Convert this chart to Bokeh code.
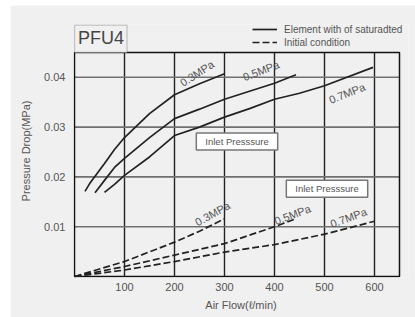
from bokeh.plotting import figure
from bokeh.models import (FixedTicker, NumeralTickFormatter, Label, Legend, LegendItem,
                          ColumnDataSource, BoxAnnotation)
from bokeh.core.properties import value
from bokeh.embed import file_html
from bokeh.resources import INLINE

# ---- data ----
flow_sat_03 = [21, 30, 40, 60, 80, 100, 150, 200, 250, 300]
dp_sat_03 = [0.0171, 0.0186, 0.0200, 0.0227, 0.0255, 0.0279, 0.0327, 0.0365, 0.0387, 0.0407]
flow_sat_05 = [41, 60, 80, 100, 150, 200, 250, 300, 350, 400, 443]
dp_sat_05 = [0.0168, 0.0193, 0.0219, 0.0237, 0.0279, 0.0317, 0.0336, 0.0356, 0.0372, 0.0388, 0.0405]
flow_sat_07 = [60, 80, 100, 150, 200, 250, 300, 350, 400, 450, 500, 597]
dp_sat_07 = [0.0169, 0.0185, 0.0203, 0.0240, 0.0283, 0.0300, 0.0320, 0.0337, 0.0356, 0.0368, 0.0383, 0.0420]

flow_ini_03 = [0, 100, 200, 250, 300]
dp_ini_03 = [0.0, 0.0030, 0.0069, 0.0091, 0.0116]
flow_ini_05 = [0, 100, 200, 300, 400, 443]
dp_ini_05 = [0.0, 0.0020, 0.0043, 0.0066, 0.0100, 0.0116]
flow_ini_07 = [0, 100, 200, 300, 400, 500, 600]
dp_ini_07 = [0.0, 0.0013, 0.0030, 0.0049, 0.0064, 0.0085, 0.0111]

x_ticks = [100, 200, 300, 400, 500, 600]
y_ticks = [0.01, 0.02, 0.03, 0.04]
x_max = 650
y_max = 0.045
pressure_labels = ["0.3MPa", "0.5MPa", "0.7MPa"]

FONT = "Liberation Sans"
TXT = "#555555"
INK = "#222222"
BG = "#f0f0f0"

p = figure(width=405, height=312, margin=(5, 0, 0, 10),
           x_range=(-2, 668), y_range=(-0.0002, 0.0506),
           output_backend="svg", toolbar_location=None,
           min_border_left=63, min_border_right=7, min_border_top=19, min_border_bottom=40)
p.background_fill_color = BG
p.border_fill_color = BG
p.outline_line_color = None
p.xgrid.visible = False
p.ygrid.visible = False

# grid + frame drawn inside the data area
p.segment(x0=x_ticks, y0=[0] * len(x_ticks), x1=x_ticks, y1=[y_max] * len(x_ticks),
          line_color="#222222", line_width=1.4)
p.segment(x0=[0] * len(y_ticks), y0=y_ticks, x1=[x_max] * len(y_ticks), y1=y_ticks,
          line_color="#707070", line_width=1.6)
p.quad(left=[0], right=[x_max], bottom=[0], top=[y_max], fill_alpha=0,
       line_color="#111111", line_width=1.5)

p.xaxis.ticker = FixedTicker(ticks=x_ticks)
p.yaxis.ticker = FixedTicker(ticks=y_ticks)
p.yaxis.formatter = NumeralTickFormatter(format="0.00")
for ax in (p.xaxis, p.yaxis):
    ax.axis_line_color = None
    ax.major_tick_line_color = None
    ax.minor_tick_line_color = None
    ax.major_tick_out = 0
    ax.major_tick_in = 0
    ax.minor_tick_out = 0
    ax.major_label_text_font = FONT
    ax.major_label_text_font_size = "11px"
    ax.major_label_text_color = TXT
    ax.axis_label_text_font = FONT
    ax.axis_label_text_font_size = "11px"
    ax.axis_label_text_color = TXT
    ax.axis_label_text_font_style = "normal"
p.xaxis.axis_label = "Air Flow(ℓ/min)"
p.yaxis.axis_label = "Pressure Drop(MPa)"
p.xaxis.major_label_standoff = 5
p.xaxis.axis_label_standoff = 5
p.yaxis.major_label_standoff = 8
p.yaxis.axis_label_standoff = 9

lw = 1.7
s1 = p.line(flow_sat_03, dp_sat_03, line_color=INK, line_width=lw)
p.line(flow_sat_05, dp_sat_05, line_color=INK, line_width=lw)
p.line(flow_sat_07, dp_sat_07, line_color=INK, line_width=lw)
d1 = p.line(flow_ini_03, dp_ini_03, line_color=INK, line_width=lw, line_dash="7 3")
p.line(flow_ini_05, dp_ini_05, line_color=INK, line_width=lw, line_dash="7 3")
p.line(flow_ini_07, dp_ini_07, line_color=INK, line_width=lw, line_dash="7 3")

# curve labels
lab_src = ColumnDataSource(dict(
    x=[245, 373, 545, 276, 436, 548],
    y=[0.0408, 0.0413, 0.0368, 0.0126, 0.0124, 0.0118],
    t=pressure_labels + pressure_labels,
    a=[33, 21, 22, 29, 21, 20],
))
p.text("x", "y", text="t", angle="a", angle_units="deg", source=lab_src,
       text_font=value(FONT), text_font_size="11px", text_color=TXT,
       text_align="center", text_baseline="middle")

# Inlet pressure boxes
for xx, yy in [(325, 0.0271), (505, 0.0176)]:
    p.add_layout(Label(x=xx, y=yy, text="Inlet Presssure", text_align="center",
                       text_baseline="middle", text_font=FONT,
                       text_font_size="9.5px", text_color=TXT,
                       background_fill_color="white", border_line_color="#777777",
                       border_line_width=1.5,
                       padding=dict(left=9, right=9, top=3, bottom=3)))

# PFU4 box
p.add_layout(BoxAnnotation(left=0, right=105, bottom=y_max, top=0.0505,
                           fill_color=BG, fill_alpha=1, line_color="#555555",
                           line_width=1.3))
p.add_layout(Label(x=53, y=0.0478, text="PFU4", text_align="center", text_baseline="middle",
                   text_font=FONT, text_font_size="18px", text_color="#444444"))

legend = Legend(items=[LegendItem(label="Element with of saturadted", renderers=[s1]),
                       LegendItem(label="Initial condition", renderers=[d1])],
                location=(179, 229), orientation="vertical",
                glyph_width=25, glyph_height=12, label_height=12, label_standoff=7,
                spacing=1, padding=0, margin=0,
                background_fill_alpha=0, border_line_color=None,
                label_text_font=FONT, label_text_font_size="10px",
                label_text_color=TXT)
p.add_layout(legend, "center")

open("out.html", "w").write(file_html(p, INLINE))
